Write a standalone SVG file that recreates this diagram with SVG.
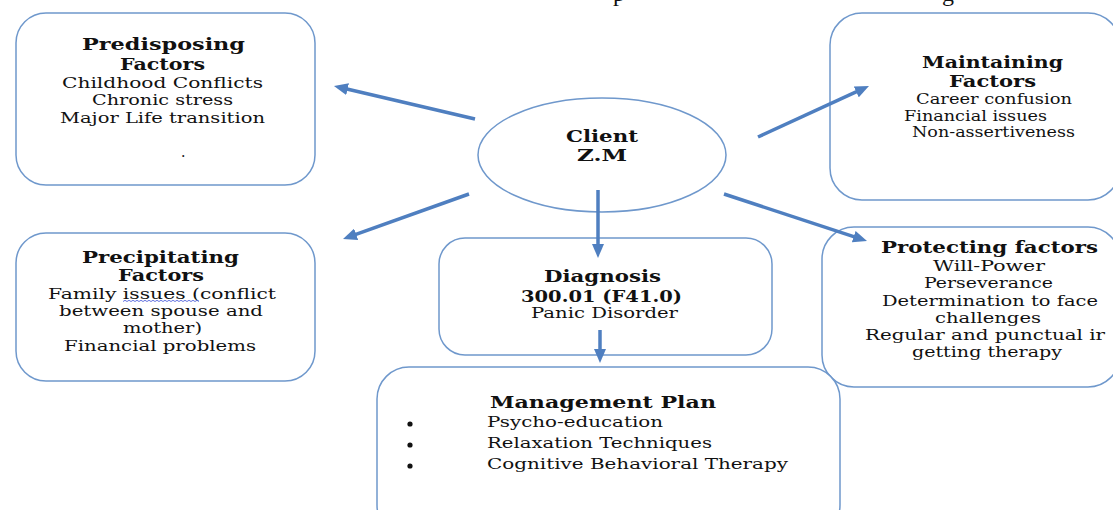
<svg xmlns="http://www.w3.org/2000/svg" width="1113" height="510" viewBox="0 0 1113 510">
<style>
.box{fill:#fff;stroke:#6f98cc;stroke-width:1.5}
.t{font-family:"DejaVu Serif","Liberation Serif",serif;font-weight:bold;font-size:16.5px;fill:#111}
.b{font-family:"DejaVu Serif","Liberation Serif",serif;font-size:14px;fill:#111}
.con{stroke:#4f7fc0;stroke-width:3.5;fill:none;marker-end:url(#ah)}
.top{font-family:"Liberation Serif",serif;font-size:24px;fill:#111}
</style>
<defs>
<marker id="ah" markerUnits="userSpaceOnUse" markerWidth="14" markerHeight="12" refX="4" refY="6" orient="auto">
<path d="M0,0 L14,6 L0,12 z" fill="#4f7fc0"/>
</marker>
</defs>
<rect width="1113" height="510" fill="#fff"/>
<g id="page-heading">
<text class="top" x="613" y="1">p</text>
<text class="top" x="942" y="1">g</text>
</g>
<g id="predisposing">
<rect class="box" x="16" y="13" width="299" height="172" rx="30"/>
<text class="t" x="82" y="50" textLength="163" lengthAdjust="spacingAndGlyphs">Predisposing</text>
<text class="t" x="120" y="70" textLength="85" lengthAdjust="spacingAndGlyphs">Factors</text>
<text class="b" x="62" y="88" textLength="201" lengthAdjust="spacingAndGlyphs">Childhood Conflicts</text>
<text class="b" x="92" y="105" textLength="141" lengthAdjust="spacingAndGlyphs">Chronic stress</text>
<text class="b" x="60" y="123" textLength="205" lengthAdjust="spacingAndGlyphs">Major Life transition</text>
<text class="b" x="181" y="157">.</text>
</g>
<g id="client">
<ellipse class="box" cx="602" cy="155" rx="124" ry="57"/>
<text class="t" x="566" y="142" textLength="72" lengthAdjust="spacingAndGlyphs">Client</text>
<text class="t" x="577" y="161" textLength="50" lengthAdjust="spacingAndGlyphs">Z.M</text>
</g>
<g id="maintaining">
<rect class="box" x="830" y="13" width="290" height="187" rx="32"/>
<text class="t" x="922" y="68" textLength="141" lengthAdjust="spacingAndGlyphs">Maintaining</text>
<text class="t" x="949" y="87" textLength="87" lengthAdjust="spacingAndGlyphs">Factors</text>
<text class="b" x="916" y="104" textLength="156" lengthAdjust="spacingAndGlyphs">Career confusion</text>
<text class="b" x="904" y="121" textLength="143" lengthAdjust="spacingAndGlyphs">Financial issues</text>
<text class="b" x="912" y="137" textLength="163" lengthAdjust="spacingAndGlyphs">Non-assertiveness</text>
</g>
<g id="precipitating">
<rect class="box" x="16" y="233" width="299" height="148" rx="30"/>
<text class="t" x="82" y="263" textLength="157" lengthAdjust="spacingAndGlyphs">Precipitating</text>
<text class="t" x="118" y="281" textLength="86" lengthAdjust="spacingAndGlyphs">Factors</text>
<text class="b" x="48" y="299" textLength="228" lengthAdjust="spacingAndGlyphs">Family issues  (conflict</text>
<path d="M123,301.5 l2,-1.2 l2,1.2 l2,-1.2 l2,1.2 l2,-1.2 l2,1.2 l2,-1.2 l2,1.2 l2,-1.2 l2,1.2 l2,-1.2 l2,1.2 l2,-1.2 l2,1.2 l2,-1.2 l2,1.2 l2,-1.2 l2,1.2 l2,-1.2 l2,1.2 l2,-1.2 l2,1.2 l2,-1.2 l2,1.2 l2,-1.2 l2,1.2 l2,-1.2 l2,1.2 l2,-1.2 l2,1.2 l2,-1.2 l2,1.2 l2,-1.2 l2,1.2 l2,-1.2 l2,1.2 l2,-1.2 l2,1.2" fill="none" stroke="#5566dd" stroke-width="0.9"/>
<text class="b" x="59" y="316" textLength="204" lengthAdjust="spacingAndGlyphs">between  spouse and</text>
<text class="b" x="123" y="333" textLength="79" lengthAdjust="spacingAndGlyphs">mother)</text>
<text class="b" x="64" y="351" textLength="192" lengthAdjust="spacingAndGlyphs">Financial problems</text>
</g>
<g id="diagnosis">
<rect class="box" x="439" y="238" width="333" height="117" rx="26"/>
<text class="t" x="544" y="282" textLength="117" lengthAdjust="spacingAndGlyphs">Diagnosis</text>
<text class="t" x="521" y="302" textLength="161" lengthAdjust="spacingAndGlyphs">300.01 (F41.0)</text>
<text class="b" x="531" y="318" textLength="147" lengthAdjust="spacingAndGlyphs">Panic Disorder</text>
</g>
<g id="protecting">
<rect class="box" x="822" y="227" width="298" height="160" rx="32"/>
<text class="t" x="881" y="253" textLength="217" lengthAdjust="spacingAndGlyphs">Protecting factors</text>
<text class="b" x="933" y="271" textLength="112" lengthAdjust="spacingAndGlyphs">Will-Power</text>
<text class="b" x="924" y="288" textLength="129" lengthAdjust="spacingAndGlyphs">Perseverance</text>
<text class="b" x="882" y="306" textLength="216" lengthAdjust="spacingAndGlyphs">Determination to face</text>
<text class="b" x="935" y="323" textLength="106" lengthAdjust="spacingAndGlyphs">challenges</text>
<text class="b" x="865" y="340" textLength="240" lengthAdjust="spacingAndGlyphs">Regular and punctual ir</text>
<text class="b" x="912" y="357" textLength="150" lengthAdjust="spacingAndGlyphs">getting therapy</text>
</g>
<g id="management">
<rect class="box" x="377" y="367" width="463" height="170" rx="32"/>
<text class="t" x="490" y="408" textLength="226" lengthAdjust="spacingAndGlyphs">Management Plan</text>
<circle cx="410" cy="424" r="2.6" fill="#111"/>
<circle cx="410" cy="445" r="2.6" fill="#111"/>
<circle cx="410" cy="466" r="2.6" fill="#111"/>
<text class="b" x="487" y="427" textLength="176" lengthAdjust="spacingAndGlyphs">Psycho-education</text>
<text class="b" x="487" y="448" textLength="225" lengthAdjust="spacingAndGlyphs">Relaxation Techniques</text>
<text class="b" x="487" y="469" textLength="301" lengthAdjust="spacingAndGlyphs">Cognitive Behavioral Therapy</text>
</g>
<g id="connectors">
<line class="con" x1="475" y1="119" x2="343.7" y2="88.3"/>
<line class="con" x1="469" y1="194" x2="352.4" y2="235.6"/>
<line class="con" x1="758" y1="137" x2="859.9" y2="90.2"/>
<line class="con" x1="724" y1="194" x2="857.5" y2="237.9"/>
<line class="con" x1="598" y1="190" x2="598" y2="248"/>
<line class="con" x1="600" y1="330" x2="600" y2="353"/>
</g>
</svg>
